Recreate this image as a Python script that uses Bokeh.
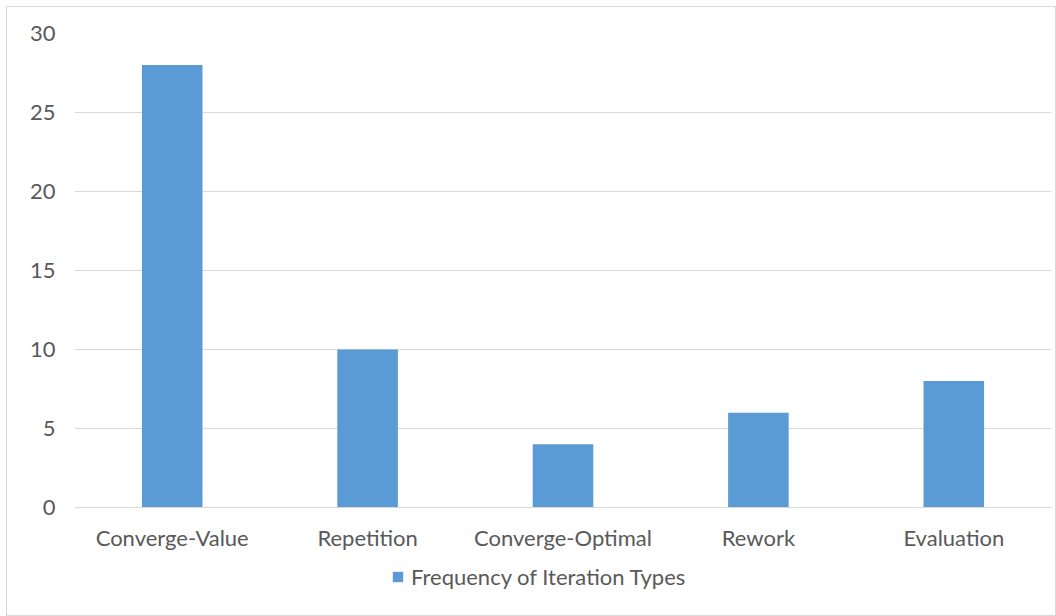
from bokeh.plotting import figure
from bokeh.layouts import column
from bokeh.models import Legend, LegendItem, ColumnDataSource, FixedTicker
from bokeh.embed import file_html
from bokeh.resources import INLINE

categories = ["Converge-Value", "Repetition", "Converge-Optimal", "Rework", "Evaluation"]
values = [28, 10, 4, 6, 8]
series_name = "Frequency of Iteration Types"
y_ticks = [0, 5, 10, 15, 20, 25, 30]

FONT = "Lato"
FS = "22px"
GRAY = "#595959"
BLUE = "#5B9BD5"

src = ColumnDataSource(dict(cat=categories, val=values))

p = figure(x_range=categories, y_range=(0, 30), width=1048, height=552,
           output_backend="svg", toolbar_location=None,
           min_border_left=67, min_border_right=4, min_border_top=26, min_border_bottom=52)

r = p.vbar(x="cat", top="val", width=0.31, source=src, fill_color=BLUE, line_color=None)

p.outline_line_color = None
p.xgrid.grid_line_color = None
p.ygrid.grid_line_color = "#d9d9d9"
p.ygrid.grid_line_width = 1
p.yaxis.ticker = FixedTicker(ticks=y_ticks)
p.yaxis.axis_line_color = None
p.yaxis.major_tick_line_color = None
p.yaxis.minor_tick_line_color = None
p.yaxis.major_label_standoff = 13
p.xaxis.axis_line_color = "#d9d9d9"
p.xaxis.major_tick_line_color = None
p.xaxis.minor_tick_line_color = None
p.xaxis.major_label_standoff = 10
for ax in (p.xaxis, p.yaxis):
    ax.major_label_text_font = FONT
    ax.major_label_text_font_size = FS
    ax.major_label_text_color = GRAY

# legend strip below the chart (its swatch renderer sits outside the visible range)
p2 = figure(width=1048, height=56, output_backend="svg", toolbar_location=None,
            min_border=0, x_range=(0, 1), y_range=(0, 1))
p2.axis.visible = False
p2.grid.grid_line_color = None
p2.outline_line_color = None
r2 = p2.vbar(x=[5], top=[5], bottom=[4], width=0.31, fill_color=BLUE, line_color=None)

legend = Legend(items=[LegendItem(label=series_name, renderers=[r2])],
                orientation="horizontal", location=(317, 25),
                label_text_font=FONT, label_text_font_size=FS, label_text_color=GRAY,
                border_line_color=None, background_fill_alpha=0,
                glyph_width=13, glyph_height=13, label_standoff=7, padding=0, margin=0)
p2.add_layout(legend, "center")

layout = column(p, p2, spacing=0)
layout.styles = {"margin-left": "6px", "margin-top": "6px", "border": "1px solid #d9d9d9"}

open("out.html", "w").write(file_html(layout, INLINE))
